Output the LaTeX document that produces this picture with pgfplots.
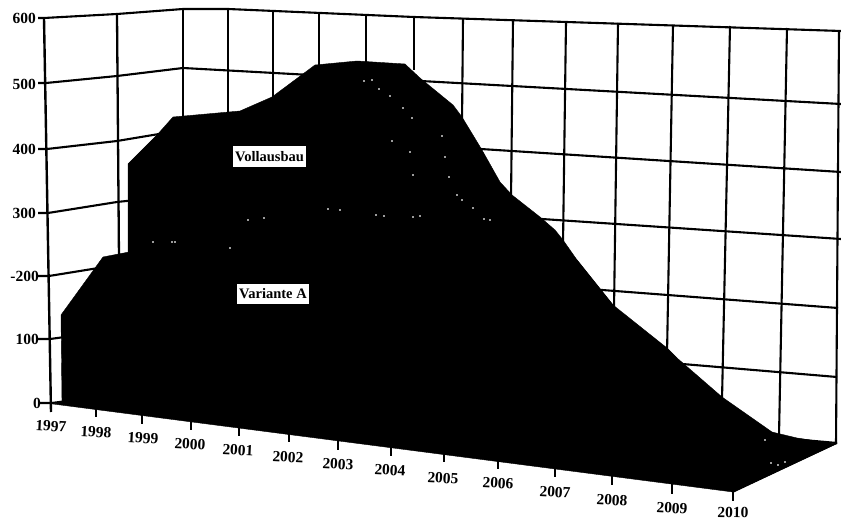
\documentclass[border=0pt]{standalone}
\usepackage{fontspec}
\setmainfont{Liberation Serif}
\usepackage{pgfplots}
\pgfplotsset{compat=1.18}
\begin{document}
\begin{tikzpicture}
% the chart is a 3D projection, so everything is read off in picture pixels
\begin{axis}[
hide axis,
scale only axis,
width=841pt, height=521pt,
xmin=0, xmax=841,
ymin=0, ymax=521,
y dir=reverse,
clip=false,
font=\fontsize{15.5}{17}\selectfont\bfseries,
every axis plot/.append style={no markers},
]
% hide axis leaves the frame out of the page size
\path [use as bounding box] (axis cs:0,0) rectangle (axis cs:841,521);
% horizontal grid lines, left wall and back wall
\addplot [black, line width=2.1pt] coordinates {(38,18) (44,18) (117,14) (183,9) (228,9) (414,17) (841,31)};
\addplot [black, line width=2.1pt] coordinates {(38,83) (46,83) (117,76) (183,68) (841,104)};
\addplot [black, line width=2.1pt] coordinates {(38,149) (47,149) (117,141) (183,130) (841,172)};
\addplot [black, line width=2.1pt] coordinates {(38,213) (48,213) (117,202) (183,195) (841,239)};
\addplot [black, line width=2.1pt] coordinates {(38,276) (49,276) (117,265) (183,258) (838,308)};
\addplot [black, line width=2.1pt] coordinates {(38,339) (50,339) (117,330) (183,322) (837,377)};
\addplot [black, line width=2.1pt] coordinates {(38,403) (52,403) (183,385) (837,443)};
% vertical grid lines
\addplot [black, line width=2.4pt] coordinates {(44,18) (51,412)};
\addplot [black, line width=2.3pt] coordinates {(117,14) (119,260)};
\addplot [black, line width=2.3pt] coordinates {(183,9) (183,130)};
\addplot [black, line width=2.3pt] coordinates {(228,9) (228,120)};
\addplot [black, line width=2.3pt] coordinates {(273,12) (273,110)};
\addplot [black, line width=2.1pt] coordinates {(319,13) (319,70)};
\addplot [black, line width=2.1pt] coordinates {(366,15) (366,70)};
\addplot [black, line width=2.1pt] coordinates {(414,17) (414,70)};
\addplot [black, line width=2.1pt] coordinates {(463,18) (462,125)};
\addplot [black, line width=2.1pt] coordinates {(513,20) (511,200)};
\addplot [black, line width=2.1pt] coordinates {(566,22) (563,245)};
\addplot [black, line width=2.1pt] coordinates {(618,23) (614,310)};
\addplot [black, line width=2.1pt] coordinates {(673,25) (667,355)};
\addplot [black, line width=2.1pt] coordinates {(730,26) (722,400)};
\addplot [black, line width=2.1pt] coordinates {(787,28) (779,436)};
\addplot [black, line width=2.1pt] coordinates {(839,31) (836,444)};
% Vollausbau
\addplot [black, fill=black] coordinates {
(128,403) (128,164) (157,135) (173,117) (240,111) (272,97) (315,65) (357,61)
(405,64) (420,78) (453,105) (462,117) (482,150) (500,182) (512,195) (540,217)
(555,230) (563,240) (577,260) (597,285) (613,305) (500,450)} -- cycle;
% Variante A
\addplot [black, fill=black] coordinates {
(53,404) (62,402) (61,315) (103,257) (129,252) (245,222) (320,212) (380,215)
(490,220) (530,238) (577,260) (597,285) (613,305) (667,348) (677,358) (722,397)
(772,432) (797,438) (836,444) (733,492)} -- cycle;
% specks left by the scan between the two areas
\addplot [only marks, mark=*, mark size=0.6pt, white] coordinates {
(364,81) (372,80) (379,89) (390,96) (403,108) (412,118) (392,141) (410,152)
(413,175) (442,136) (445,157) (449,177) (457,195) (462,200) (473,208) (484,219)
(490,220) (248,220) (264,218) (328,209) (340,210) (376,215) (384,216) (413,217)
(420,216) (230,248) (172,242) (153,242) (175,242) (765,440) (771,463) (778,465) (785,462)};
% floor edges
\addplot [black, line width=1.5pt] coordinates {(733,492) (837,443)};
% ticks on the year axis
\addplot [black, line width=1.8pt] coordinates {(96,408) (96,417)};
\addplot [black, line width=1.8pt] coordinates {(142,414) (142,424)};
\addplot [black, line width=1.8pt] coordinates {(191,420) (191,430)};
\addplot [black, line width=1.8pt] coordinates {(239,427) (239,436)};
\addplot [black, line width=1.8pt] coordinates {(289,433) (289,442)};
\addplot [black, line width=1.8pt] coordinates {(338,440) (338,450)};
\addplot [black, line width=1.8pt] coordinates {(391,447) (391,456)};
\addplot [black, line width=1.8pt] coordinates {(444,453) (444,462)};
\addplot [black, line width=1.8pt] coordinates {(498,461) (498,469)};
\addplot [black, line width=1.8pt] coordinates {(555,468) (555,477)};
\addplot [black, line width=1.8pt] coordinates {(612,476) (612,485)};
\addplot [black, line width=1.8pt] coordinates {(672,484) (672,494)};
\addplot [black, line width=1.8pt] coordinates {(733,492) (733,501)};
% value labels
\node [anchor=east, inner sep=0pt] at (axis cs:36,18) {600};
\node [anchor=east, inner sep=0pt] at (axis cs:36,84) {500};
\node [anchor=east, inner sep=0pt] at (axis cs:36,149) {400};
\node [anchor=east, inner sep=0pt] at (axis cs:36,213) {300};
\node [anchor=east, inner sep=0pt] at (axis cs:39,276) {-200};
\node [anchor=east, inner sep=0pt] at (axis cs:39,339) {100};
\node [anchor=east, inner sep=0pt] at (axis cs:41,403) {0};
% year labels
\node [rotate=-3, inner sep=0pt] at (axis cs:51,426) {1997};
\node [rotate=-3, inner sep=0pt] at (axis cs:96,432) {1998};
\node [rotate=-3, inner sep=0pt] at (axis cs:143,438) {1999};
\node [rotate=-3, inner sep=0pt] at (axis cs:190,444) {2000};
\node [rotate=-3, inner sep=0pt] at (axis cs:238,450) {2001};
\node [rotate=-3, inner sep=0pt] at (axis cs:288,457) {2002};
\node [rotate=-3, inner sep=0pt] at (axis cs:338,464) {2003};
\node [rotate=-3, inner sep=0pt] at (axis cs:390,470) {2004};
\node [rotate=-3, inner sep=0pt] at (axis cs:443,478) {2005};
\node [rotate=-3, inner sep=0pt] at (axis cs:498,483) {2006};
\node [rotate=-3, inner sep=0pt] at (axis cs:555,492) {2007};
\node [rotate=-3, inner sep=0pt] at (axis cs:612,500) {2008};
\node [rotate=-3, inner sep=0pt] at (axis cs:672,508) {2009};
\node [rotate=-1, inner sep=0pt] at (axis cs:733,512.5) {2010};
% series labels
\node [fill=white, inner sep=0pt, minimum width=73pt, minimum height=21pt, font=\fontsize{14.5}{16}\selectfont\bfseries] at (axis cs:269.5,156.5) {Vollausbau};
\node [fill=white, inner sep=0pt, minimum width=72pt, minimum height=20pt, font=\fontsize{14.5}{16}\selectfont\bfseries] at (axis cs:273,294) {Variante A};
\end{axis}
\end{tikzpicture}
\end{document}
